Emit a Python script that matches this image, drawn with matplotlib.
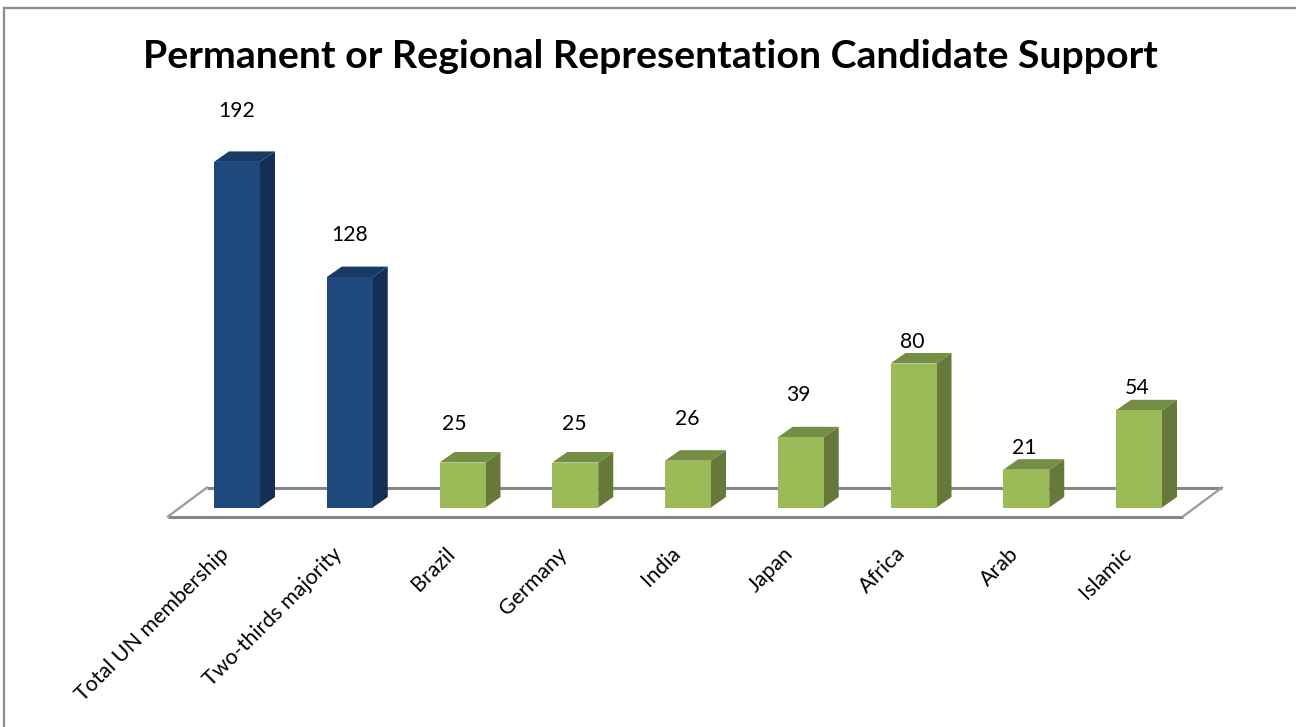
import matplotlib.pyplot as plt
from matplotlib.patches import Polygon

categories = ['Total UN membership', 'Two-thirds majority', 'Brazil', 'Germany',
              'India', 'Japan', 'Africa', 'Arab', 'Islamic']
votes = [192, 128, 25, 25, 26, 39, 80, 21, 54]
is_benchmark = [True, True, False, False, False, False, False, False, False]

W, H = 1296, 727
PX_X = 112.75    # pixels per category
PX_Y = 1.8       # pixels per vote
X0, Y0 = 237, 507.5   # pixel position of first bar centre, value zero

plt.rcParams['font.family'] = ['Lato', 'DejaVu Sans']
fig = plt.figure(figsize=(W / 100, H / 100), dpi=100, facecolor='white')
ax = fig.add_axes([0, 0, 1, 1])
ax.set_xlim(-X0 / PX_X, (W - X0) / PX_X)
ax.set_ylim((Y0 - H) / PX_Y, Y0 / PX_Y)
ax.axis('off')

# offsets in axis units for the fake 3d look
half = 23 / PX_X
dx = 15 / PX_X
dy = 10.5 / PX_Y

# floor
floor_c = '#868686'
fx0, fx1 = (168 - X0) / PX_X, (1183 - X0) / PX_X
fy = -9 / PX_Y
fdx, fdy = 39 / PX_X, 29 / PX_Y
ax.plot([fx0, fx1], [fy, fy], color=floor_c, lw=2.2, zorder=1, solid_capstyle='butt')
ax.plot([fx0 + fdx, fx1 + fdx], [fy + fdy, fy + fdy], color=floor_c, lw=2.2, zorder=1, solid_capstyle='butt')
ax.plot([fx0, fx0 + fdx], [fy, fy + fdy], color='#9a9a9a', lw=1.6, zorder=1)
ax.plot([fx1, fx1 + fdx], [fy, fy + fdy], color='#9a9a9a', lw=1.6, zorder=1)

# bars
for i, v in enumerate(votes):
    if is_benchmark[i]:
        front, side, top = '#1F497D', '#142F55', '#1A3A66'
    else:
        front, side, top = '#9BBB59', '#66793A', '#748E44'
    l, r = i - half, i + half
    ax.add_patch(Polygon([(r, 0), (r + dx, dy), (r + dx, v + dy), (r, v)], fc=side, ec='none', zorder=3))
    ax.add_patch(Polygon([(l, v), (r, v), (r + dx, v + dy), (l + dx, v + dy)], fc=top, ec='none', zorder=3))
    ax.add_patch(Polygon([(l, 0), (r, 0), (r, v), (l, v)], fc=front, ec='none', zorder=4))

# value labels sit at hand placed gaps in the original
label_gap = [51, 42, 39, 39, 42, 42, 21, 22, 22]
label_shift = [0, 0, -8, -1, -1, -2, -1, -2, -2]
for i, v in enumerate(votes):
    ax.text(i + label_shift[i] / PX_X, v + label_gap[i] / PX_Y, str(v), ha='center', va='center',
            fontsize=15.2, color='black', zorder=5)

# category labels
for i, name in enumerate(categories):
    ax.text(i - 18 / PX_X, -36 / PX_Y, name, rotation=45, rotation_mode='anchor', ha='right', va='top',
            fontsize=15.4, color='black')

ax.text((650.5 - X0) / PX_X, (Y0 - 56) / PX_Y, 'Permanent or Regional Representation Candidate Support',
        ha='center', va='center', fontsize=28.3, fontweight='bold', color='black')

# outer chart border, only top and left are inside the crop
ax.plot([(4 - X0) / PX_X, (W - X0) / PX_X], [(Y0 - 8) / PX_Y] * 2, color='#8c8c8c', lw=1.6)
ax.plot([(4 - X0) / PX_X] * 2, [(Y0 - 8) / PX_Y, (Y0 - H) / PX_Y], color='#8c8c8c', lw=1.6)

fig.savefig('out.png', dpi=100)
